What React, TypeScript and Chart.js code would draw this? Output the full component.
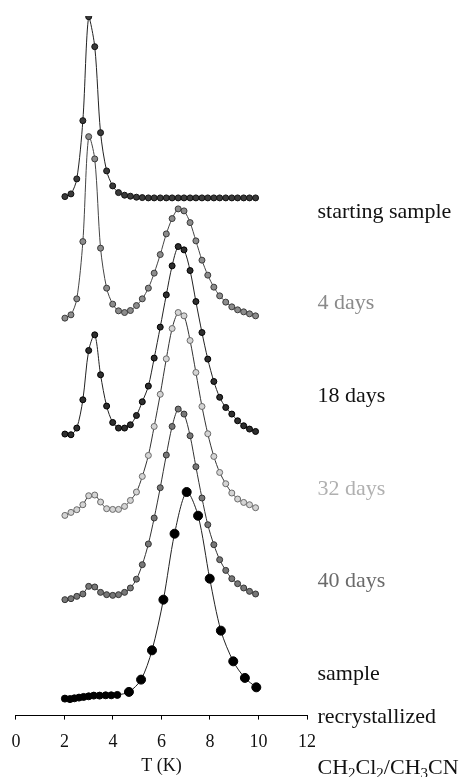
import React, { useEffect, useRef } from "react";
import { Chart, registerables } from "chart.js";

Chart.register(...registerables);

// Temperature grid (K) shared by the aged samples
const temperatures = [
  2.02, 2.27, 2.51, 2.76, 3.0, 3.25, 3.49, 3.74, 3.99, 4.23, 4.48, 4.72, 4.97,
  5.21, 5.46, 5.7, 5.95, 6.2, 6.44, 6.69, 6.93, 7.18, 7.42, 7.67, 7.91, 8.16,
  8.4, 8.65, 8.9, 9.14, 9.39, 9.63, 9.88,
];

// Signal (arbitrary units) for each series, above its own baseline
const startingSample = [
  0.13, 0.4, 1.9, 7.73, 18.13, 15.13, 6.53, 2.7, 1.2, 0.53, 0.27, 0.17, 0.07,
  0.03, 0.0, 0.0, 0.0, 0.0, 0.0, 0.0, 0.0, 0.0, 0.0, 0.0, 0.0, 0.0, 0.0, 0.0,
  0.0, 0.0, 0.0, 0.0, 0.0,
];
const days4 = [
  0.17, 0.5, 2.1, 7.83, 18.33, 16.1, 7.17, 3.17, 1.57, 0.9, 0.73, 0.93, 1.43,
  2.1, 3.17, 4.67, 6.53, 8.6, 10.13, 11.1, 10.9, 9.73, 7.9, 5.97, 4.47, 3.27,
  2.4, 1.77, 1.3, 1.0, 0.8, 0.6, 0.4,
];
const days18 = [
  0.17, 0.1, 0.77, 3.6, 8.53, 10.1, 6.1, 2.97, 1.33, 0.77, 0.77, 1.1, 2.03,
  3.4, 4.97, 7.77, 10.87, 14.1, 17.0, 18.93, 18.6, 16.53, 13.43, 10.33, 7.67,
  5.43, 3.85, 2.83, 2.17, 1.5, 1.0, 0.67, 0.43,
];
const days32 = [
  0.23, 0.53, 0.8, 1.3, 2.2, 2.27, 1.57, 0.9, 0.83, 0.83, 1.13, 1.73, 2.57,
  4.13, 6.23, 9.13, 12.35, 15.9, 18.93, 20.53, 20.2, 17.73, 14.53, 11.13, 8.4,
  6.13, 4.53, 3.4, 2.47, 1.87, 1.53, 1.3, 1.0,
];
const days40 = [
  0.2, 0.3, 0.53, 0.77, 1.53, 1.47, 0.93, 0.7, 0.63, 0.7, 0.93, 1.37, 2.25,
  3.7, 5.77, 8.37, 11.4, 14.67, 17.53, 19.27, 18.77, 16.6, 13.5, 10.37, 7.7,
  5.7, 4.2, 3.13, 2.3, 1.8, 1.37, 1.03, 0.77,
];

// Recrystallized sample has its own temperature grid
const recrystTemperatures = [
  2.02, 2.23, 2.41, 2.6, 2.79, 3.0, 3.21, 3.45, 3.7, 3.93, 4.18, 4.66, 5.16,
  5.61, 6.08, 6.54, 7.04, 7.51, 7.99, 8.45, 8.96, 9.44, 9.91,
];
const recrystallized = [
  0.3, 0.25, 0.33, 0.4, 0.47, 0.53, 0.6, 0.6, 0.63, 0.63, 0.67, 0.97, 2.2,
  5.13, 10.2, 16.8, 20.97, 18.6, 12.3, 7.1, 4.03, 2.37, 1.43,
];

// Vertical offsets of each curve (stacking)
const offsets = [51.8, 39.6, 28.0, 19.8, 11.4, 1.4];

const xTicks = [0, 2, 4, 6, 8, 10, 12];
const xTitle = "T (K)";

const seriesLabels = [
  { text: "starting sample", color: "#111111", y: 49.77 },
  { text: "4 days", color: "#8a8a8a", y: 40.67 },
  { text: "18 days", color: "#111111", y: 31.37 },
  { text: "32 days", color: "#b0b0b0", y: 22.1 },
  { text: "40 days", color: "#6a6a6a", y: 12.87 },
  { text: "sample", color: "#111111", y: 3.6 },
  { text: "recrystallized", color: "#111111", y: -0.73 },
];
const solventLabel = [
  { t: "CH", sub: false },
  { t: "2", sub: true },
  { t: "Cl", sub: false },
  { t: "2", sub: true },
  { t: "/CH", sub: false },
  { t: "3", sub: true },
  { t: "CN", sub: false },
];
const solventY = -5.8;

const SERIF = '"Liberation Serif", "Times New Roman", serif';

const labelsPlugin = {
  id: "sideLabels",
  afterDraw(chart: any) {
    const { ctx, chartArea, scales } = chart;
    const x0 = chartArea.right + 10.5;
    ctx.save();
    ctx.textBaseline = "alphabetic";
    ctx.textAlign = "left";
    ctx.font = `22px ${SERIF}`;
    for (const l of seriesLabels) {
      ctx.fillStyle = l.color;
      ctx.fillText(l.text, x0, scales.y.getPixelForValue(l.y));
    }
    let x = x0;
    const yb = scales.y.getPixelForValue(solventY);
    ctx.fillStyle = "#111111";
    for (const part of solventLabel) {
      ctx.font = part.sub ? `15px ${SERIF}` : `22px ${SERIF}`;
      ctx.fillText(part.t, x, part.sub ? yb + 4 : yb);
      x += ctx.measureText(part.t).width;
    }
    ctx.restore();
  },
};

function toPoints(xs: number[], ys: number[], off: number) {
  return xs.map((x, i) => ({ x, y: ys[i] + off }));
}

export default function App() {
  const ref = useRef<HTMLCanvasElement | null>(null);

  useEffect(() => {
    if (!ref.current) return;
    const base = {
      showLine: true,
      borderWidth: 1,
      tension: 0.3,
      pointRadius: 3,
      pointBorderWidth: 1,
      pointHoverRadius: 3,
    };
    const chart = new Chart(ref.current, {
      type: "line",
      data: {
        datasets: [
          {
            ...base,
            label: "starting sample",
            data: toPoints(temperatures, startingSample, offsets[0]),
            borderColor: "#222222",
            pointBackgroundColor: "#3a3a3a",
            pointBorderColor: "#111111",
          },
          {
            ...base,
            label: "4 days",
            data: toPoints(temperatures, days4, offsets[1]),
            borderColor: "#444444",
            pointBackgroundColor: "#8c8c8c",
            pointBorderColor: "#3a3a3a",
          },
          {
            ...base,
            label: "18 days",
            data: toPoints(temperatures, days18, offsets[2]),
            borderColor: "#222222",
            pointBackgroundColor: "#2e2e2e",
            pointBorderColor: "#000000",
          },
          {
            ...base,
            label: "32 days",
            data: toPoints(temperatures, days32, offsets[3]),
            borderColor: "#333333",
            pointBackgroundColor: "#d4d4d4",
            pointBorderColor: "#6a6a6a",
          },
          {
            ...base,
            label: "40 days",
            data: toPoints(temperatures, days40, offsets[4]),
            borderColor: "#333333",
            pointBackgroundColor: "#777777",
            pointBorderColor: "#333333",
          },
          {
            ...base,
            label: "recrystallized",
            data: toPoints(recrystTemperatures, recrystallized, offsets[5]),
            borderColor: "#222222",
            pointBackgroundColor: "#000000",
            pointBorderColor: "#000000",
            pointRadius: (c: any) => (c.dataIndex < 11 ? 3.5 : 4.5),
          },
        ],
      },
      options: {
        animation: false,
        responsive: false,
        devicePixelRatio: 1,
        layout: { padding: { left: 14, right: 152, top: 16, bottom: 0 } },
        plugins: {
          legend: { display: false },
          tooltip: { enabled: false },
        },
        scales: {
          x: {
            type: "linear",
            min: xTicks[0],
            max: xTicks[xTicks.length - 1],
            afterBuildTicks: (s: any) => {
              s.ticks = xTicks.map((v) => ({ value: v }));
            },
            ticks: {
              padding: 11.4,
              color: "#111111",
              font: { family: SERIF, size: 18 },
              maxRotation: 0,
              autoSkip: false,
            },
            grid: {
              display: true,
              drawOnChartArea: false,
              drawTicks: true,
              tickLength: 4,
              color: "#000000",
            },
            border: { display: true, color: "#000000", width: 1 },
            title: {
              display: true,
              text: xTitle,
              color: "#111111",
              font: { family: SERIF, size: 18 },
              padding: { top: -8.6, bottom: 0 },
            },
          },
          y: {
            type: "linear",
            display: false,
            min: 0,
            max: 70,
          },
        },
      },
      plugins: [labelsPlugin],
    } as any);
    return () => chart.destroy();
  }, []);

  return (
    <div style={{ position: "absolute", left: 0, top: 0, width: 459, height: 777, background: "#fff" }}>
      <canvas ref={ref} width={459} height={777} style={{ display: "block", width: 459, height: 777 }} />
    </div>
  );
}
